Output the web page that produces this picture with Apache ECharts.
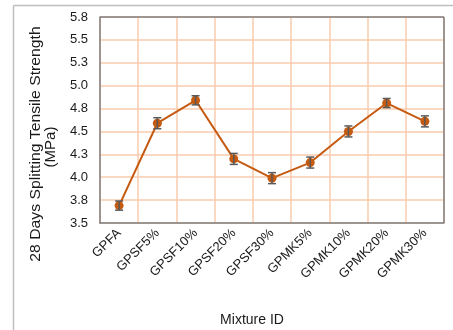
<!DOCTYPE html>
<html>
<head>
<meta charset="utf-8">
<script src="https://cdn.jsdelivr.net/npm/echarts@6/dist/echarts.min.js"></script>
<style>
  html, body { margin: 0; padding: 0; background: #fff; }
  #chart { width: 453px; height: 330px; }
</style>
</head>
<body>
<div id="chart"></div>
<script>
// Mixture IDs along the x axis
const mixtures = ['GPFA', 'GPSF5%', 'GPSF10%', 'GPSF20%', 'GPSF30%', 'GPMK5%', 'GPMK10%', 'GPMK20%', 'GPMK30%'];
// 28-day splitting tensile strength (MPa)
const strength = [3.69, 4.59, 4.84, 4.20, 3.99, 4.16, 4.50, 4.81, 4.61];
// Standard deviation shown as error bars (MPa)
const stdDev = [0.05, 0.06, 0.05, 0.06, 0.06, 0.06, 0.06, 0.05, 0.06];

const FONT = 'Liberation Sans';
const chart = echarts.init(document.getElementById('chart'), null, { renderer: 'canvas' });

const errorData = mixtures.map((m, i) => [i, strength[i] - stdDev[i], strength[i] + stdDev[i]]);

chart.setOption({
  animation: false,
  backgroundColor: '#fff',
  grid: { left: 100, right: 9, top: 17, bottom: 107, containLabel: false },
  xAxis: {
    type: 'category',
    data: mixtures,
    boundaryGap: true,
    axisLine: { show: true, lineStyle: { color: '#7f7f7f', width: 1.5 } },
    axisTick: { show: false },
    axisLabel: { rotate: 45, margin: 8, fontFamily: FONT, fontSize: 13, color: '#1a1a1a', interval: 0 },
    splitLine: { show: true, interval: 0, lineStyle: { color: '#f8cbad', width: 1.5 } }
  },
  yAxis: {
    type: 'value',
    min: 3.5,
    max: 5.75,
    interval: 0.25,
    axisLine: { show: true, lineStyle: { color: '#7f7f7f', width: 1.5 } },
    axisTick: { show: false },
    axisLabel: {
      margin: 12, fontFamily: FONT, fontSize: 13, color: '#1a1a1a',
      formatter: v => v.toFixed(1)
    },
    splitLine: { show: true, lineStyle: { color: '#f8cbad', width: 1.5 } }
  },
  graphic: [
    // chart area frame (top and left edges)
    { type: 'line', shape: { x1: 13.5, y1: 5.5, x2: 453, y2: 5.5 }, style: { stroke: '#bfbfbf', lineWidth: 1.5 } },
    { type: 'line', shape: { x1: 13.5, y1: 5.5, x2: 13.5, y2: 330 }, style: { stroke: '#bfbfbf', lineWidth: 1.5 } },
    // plot area frame (top and right edges)
    { type: 'line', shape: { x1: 100, y1: 17, x2: 444, y2: 17 }, style: { stroke: '#7f7f7f', lineWidth: 1.5 }, z: 10 },
    { type: 'line', shape: { x1: 444, y1: 17, x2: 444, y2: 223 }, style: { stroke: '#7f7f7f', lineWidth: 1.5 }, z: 10 },
    // axis titles
    {
      type: 'text', x: 36, y: 144, rotation: Math.PI / 2, scaleX: 1.05,
      style: { text: '28 Days Splitting Tensile Strength', font: '15px "Liberation Sans"', fill: '#1a1a1a', align: 'center', verticalAlign: 'middle' }
    },
    {
      type: 'text', x: 51, y: 147, rotation: Math.PI / 2,
      style: { text: '(MPa)', font: '15px "Liberation Sans"', fill: '#1a1a1a', align: 'center', verticalAlign: 'middle' }
    },
    {
      type: 'text', x: 252, y: 320,
      style: { text: 'Mixture ID', font: '14px "Liberation Sans"', fill: '#1a1a1a', align: 'center', verticalAlign: 'middle' }
    }
  ],
  series: [
    {
      type: 'line',
      data: strength,
      symbol: 'circle',
      symbolSize: 9,
      lineStyle: { color: '#c55a11', width: 2 },
      itemStyle: { color: '#c55a11' },
      z: 3
    },
    {
      type: 'custom',
      z: 4,
      data: errorData,
      renderItem: (params, api) => {
        const lo = api.coord([api.value(0), api.value(1)]);
        const hi = api.coord([api.value(0), api.value(2)]);
        const hw = 4;
        const st = { stroke: '#595959', lineWidth: 1.5 };
        return {
          type: 'group',
          children: [
            { type: 'line', shape: { x1: lo[0], y1: lo[1], x2: hi[0], y2: hi[1] }, style: st },
            { type: 'line', shape: { x1: lo[0] - hw, y1: lo[1], x2: lo[0] + hw, y2: lo[1] }, style: st },
            { type: 'line', shape: { x1: hi[0] - hw, y1: hi[1], x2: hi[0] + hw, y2: hi[1] }, style: st }
          ]
        };
      }
    }
  ]
});
</script>
</body>
</html>
